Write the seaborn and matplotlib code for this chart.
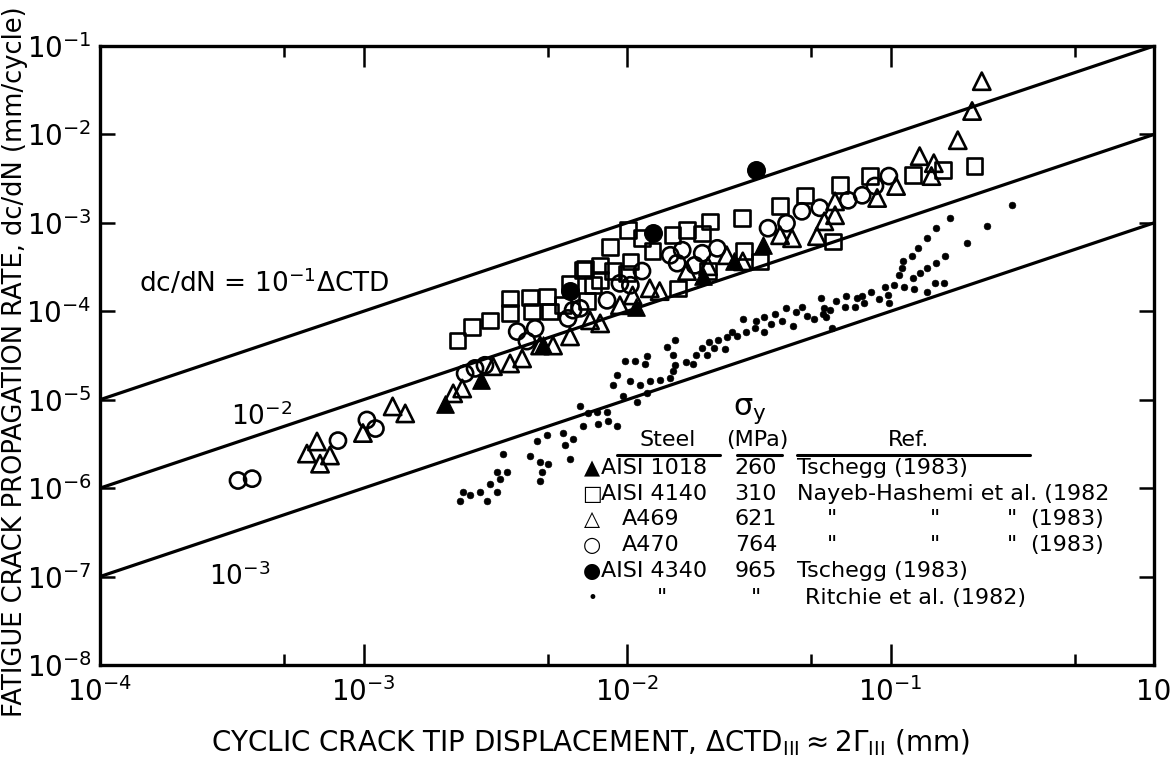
import matplotlib
matplotlib.use("Agg")
import matplotlib.pyplot as plt
import seaborn as sns
from matplotlib.lines import Line2D
from matplotlib.ticker import FixedLocator, FixedFormatter, NullFormatter, NullLocator

# ---------------------------------------------------------------------------
# Fatigue crack growth rate vs. cyclic crack tip displacement (mode III)
# ---------------------------------------------------------------------------

# AISI 4140, Nayeb-Hashemi et al. (open squares)
sq_x = [2.27e-3, 2.58e-3, 3.02e-3, 3.60e-3, 3.60e-3, 4.29e-3, 4.97e-3, 4.36e-3, 5.10e-3, 5.71e-3,
        6.08e-3, 6.81e-3, 7.05e-3, 7.43e-3, 7.91e-3, 7.91e-3, 8.86e-3, 1.00e-2, 1.03e-2, 8.60e-3,
        1.01e-2, 1.14e-2, 1.25e-2, 1.49e-2, 1.69e-2, 1.93e-2, 2.07e-2, 2.73e-2, 2.78e-2, 3.20e-2,
        3.81e-2, 4.73e-2, 6.05e-2, 6.43e-2, 8.36e-2, 0.122, 0.158, 0.208, 6.93e-3, 1.56e-2,
        2.03e-2]
sq_y = [4.7e-5, 6.6e-5, 7.9e-5, 1.40e-4, 9.5e-5, 1.44e-4, 1.47e-4, 1.0e-4, 1.0e-4, 1.17e-4,
        2.07e-4, 2.92e-4, 1.30e-4, 1.97e-4, 3.31e-4, 2.25e-4, 2.85e-4, 2.69e-4, 3.67e-4, 5.3e-4,
        8.25e-4, 6.7e-4, 4.8e-4, 7.24e-4, 8.25e-4, 7.6e-4, 1.04e-3, 1.13e-3, 4.8e-4, 3.67e-4,
        1.55e-3, 2.05e-3, 6.19e-4, 2.69e-3, 3.38e-3, 3.46e-3, 3.94e-3, 4.38e-3, 3.06e-4, 1.82e-4,
        2.85e-4]

# A470, Nayeb-Hashemi et al. (open circles)
ci_x = [3.34e-4, 3.78e-4, 8.0e-4, 1.03e-3, 1.11e-3, 2.43e-3, 2.65e-3, 2.89e-3, 3.83e-3, 4.17e-3,
        4.48e-3, 5.97e-3, 6.24e-3, 6.64e-3, 8.40e-3, 9.40e-3, 1.03e-2, 1.14e-2, 1.46e-2, 1.62e-2,
        1.55e-2, 1.81e-2, 1.93e-2, 2.20e-2, 3.43e-2, 4.03e-2, 4.61e-2, 5.39e-2, 6.91e-2, 7.81e-2,
        8.73e-2, 9.86e-2]
ci_y = [1.22e-6, 1.28e-6, 3.45e-6, 5.9e-6, 4.72e-6, 1.98e-5, 2.26e-5, 2.45e-5, 5.9e-5, 4.6e-5,
        6.4e-5, 8.3e-5, 1.03e-4, 1.08e-4, 1.33e-4, 2.07e-4, 1.97e-4, 2.85e-4, 4.30e-4, 4.91e-4,
        3.5e-4, 3.31e-4, 4.53e-4, 5.15e-4, 8.7e-4, 9.9e-4, 1.35e-3, 1.48e-3, 1.80e-3, 2.05e-3,
        2.61e-3, 3.38e-3]

# A469, Nayeb-Hashemi et al. (open triangles)
tr_x = [6.10e-4, 6.66e-4, 6.84e-4, 7.46e-4, 9.95e-4, 1.29e-3, 1.44e-3, 2.19e-3, 2.37e-3, 3.10e-3,
        3.60e-3, 4.00e-3, 4.68e-3, 5.24e-3, 6.08e-3, 7.24e-3, 7.91e-3, 9.40e-3, 1.05e-2, 1.22e-2,
        1.33e-2, 1.69e-2, 2.03e-2, 2.39e-2, 2.75e-2, 3.81e-2, 4.23e-2, 5.26e-2, 5.61e-2, 6.16e-2,
        6.16e-2, 8.90e-2, 0.105, 0.143, 0.146, 0.129, 0.180, 0.204, 0.222]
tr_y = [2.46e-6, 3.37e-6, 1.89e-6, 2.34e-6, 4.2e-6, 8.4e-6, 7.0e-6, 1.18e-5, 1.34e-5, 2.39e-5,
        2.57e-5, 2.93e-5, 4.1e-5, 4.1e-5, 5.2e-5, 7.9e-5, 7.3e-5, 1.17e-4, 1.51e-4, 1.82e-4,
        1.69e-4, 2.85e-4, 3.23e-4, 4.30e-4, 3.67e-4, 7.24e-4, 6.7e-4, 7.07e-4, 1.04e-3, 1.22e-3,
        1.75e-3, 1.91e-3, 2.61e-3, 3.38e-3, 4.73e-3, 5.68e-3, 8.6e-3, 1.84e-2, 4.0e-2]

# AISI 1018, Tschegg (filled triangles)
ft_x = [2.04e-3, 2.79e-3, 4.80e-3, 1.08e-2, 1.94e-2, 2.55e-2, 3.28e-2]
ft_y = [9.06e-6, 1.65e-5, 4.2e-5, 1.11e-4, 2.50e-4, 3.67e-4, 5.57e-4]

# AISI 4340, Tschegg (filled circles)
fc_x = [6.08e-3, 1.26e-2, 3.10e-2]
fc_y = [1.69e-4, 7.6e-4, 3.94e-3]

# AISI 4340, Ritchie et al. (small dots)
dt_x = [2.32e-3, 2.54e-3, 2.39e-3, 2.77e-3, 2.94e-3, 3.02e-3, 3.21e-3, 3.21e-3, 3.30e-3, 3.51e-3,
        3.38e-3, 4.29e-3, 4.55e-3, 4.68e-3, 5.01e-3, 4.76e-3, 4.68e-3, 4.97e-3, 5.71e-3, 6.24e-3,
        6.08e-3, 5.80e-3, 6.64e-3, 7.11e-3, 7.69e-3, 8.40e-3, 6.81e-3, 7.76e-3, 8.47e-3, 9.16e-3,
        9.16e-3, 8.86e-3, 9.82e-3, 1.07e-2, 1.19e-2, 1.03e-2, 1.12e-2, 1.22e-2, 1.33e-2, 1.46e-2,
        9.66e-3, 1.09e-2, 1.19e-2, 1.52e-2, 1.42e-2, 1.49e-2, 1.52e-2, 1.68e-2, 1.78e-2, 1.83e-2,
        1.93e-2, 2.01e-2, 2.04e-2, 2.14e-2, 2.22e-2, 2.36e-2, 2.39e-2, 2.50e-2, 2.62e-2, 2.75e-2,
        2.84e-2, 3.06e-2, 3.10e-2, 3.30e-2, 3.30e-2, 3.52e-2, 3.65e-2, 3.88e-2, 4.00e-2, 4.26e-2,
        4.37e-2, 4.61e-2, 4.81e-2, 5.12e-2, 5.44e-2, 5.61e-2, 5.70e-2, 6.00e-2, 6.21e-2, 6.72e-2,
        6.78e-2, 7.33e-2, 7.46e-2, 7.94e-2, 8.43e-2, 9.07e-2, 9.86e-2, 9.50e-2, 0.103, 0.113,
        0.123, 0.137, 0.148, 0.160, 1.49e-2, 1.17e-2, 0.290, 0.233, 0.195, 0.168,
        0.149, 0.138, 0.127, 0.121, 0.112, 0.161, 0.149, 0.138, 0.129, 0.122,
        0.108, 0.111, 9.77e-2, 7.81e-2, 5.89e-2, 5.52e-2]
dt_y = [7.2e-7, 8.3e-7, 9.1e-7, 9.1e-7, 7.2e-7, 1.12e-6, 9.1e-7, 1.54e-6, 1.28e-6, 1.54e-6,
        2.46e-6, 2.28e-6, 3.37e-6, 2.0e-6, 1.89e-6, 1.54e-6, 1.22e-6, 4.0e-6, 4.2e-6, 3.64e-6,
        2.16e-6, 3.1e-6, 8.4e-6, 7.0e-6, 7.35e-6, 7.35e-6, 5.1e-6, 5.37e-6, 5.8e-6, 5.1e-6,
        1.88e-5, 1.45e-5, 2.73e-5, 2.73e-5, 3.1e-5, 1.62e-5, 1.45e-5, 1.62e-5, 1.65e-5, 1.74e-5,
        1.1e-5, 9.5e-6, 1.18e-5, 4.7e-5, 3.9e-5, 3.17e-5, 2.45e-5, 2.65e-5, 2.51e-5, 3.17e-5,
        3.8e-5, 3.17e-5, 4.5e-5, 3.8e-5, 4.7e-5, 3.7e-5, 5.1e-5, 5.8e-5, 5.3e-5, 8.1e-5,
        5.8e-5, 6.4e-5, 7.7e-5, 8.6e-5, 5.8e-5, 7.1e-5, 9.2e-5, 7.7e-5, 1.08e-4, 6.8e-5,
        9.8e-5, 1.11e-4, 8.8e-5, 8.1e-5, 1.40e-4, 1.08e-4, 8.6e-5, 6.4e-5, 1.30e-4, 1.11e-4,
        1.47e-4, 1.11e-4, 1.40e-4, 1.23e-4, 1.65e-4, 1.36e-4, 1.23e-4, 1.88e-4, 1.97e-4, 1.88e-4,
        1.78e-4, 1.65e-4, 2.07e-4, 2.07e-4, 2.1e-5, 2.51e-5, 1.58e-3, 9.2e-4, 5.87e-4, 1.13e-3,
        8.7e-4, 6.7e-4, 5.15e-4, 4.2e-4, 3.67e-4, 4.2e-4, 3.5e-4, 3.06e-4, 2.69e-4, 2.36e-4,
        2.56e-4, 3.06e-4, 1.51e-4, 1.47e-4, 1.03e-4, 9.2e-5]

# Reference lines dc/dN = C * dCTD
line_coefs = [1e-1, 1e-2, 1e-3]
line_x = [1e-4, 1.0]

# Axis ticks
x_major = [1e-4, 1e-3, 1e-2, 1e-1, 1.0]
x_major_labels = [r"$10^{-4}$", r"$10^{-3}$", r"$10^{-2}$", r"$10^{-1}$", "10"]
x_minor = [5e-4, 5e-3, 5e-2, 5e-1]
y_major = [1e-8, 1e-7, 1e-6, 1e-5, 1e-4, 1e-3, 1e-2, 1e-1]
y_major_labels = [r"$10^{-%d}$" % k for k in range(8, 0, -1)]

# Key table
key_symbols = ["\u25B2", "\u25A1", "\u25B3", "\u25CB", "\u25CF", "\u2022"]
key_steels = ["AISI 1018", "AISI 4140", "A469", "A470", "AISI 4340", '"']
key_sigma = ["260", "310", "621", "764", "965", '"']
key_refs = ["Tschegg (1983)", "Nayeb-Hashemi et al. (1982", None, None,
            "Tschegg (1983)", "Ritchie et al. (1982)"]

# ---------------------------------------------------------------------------
W, H = 1176, 769
sns.set_theme(style="white")
plt.rcParams["font.family"] = ["DejaVu Sans"]
plt.rcParams["mathtext.default"] = "regular"
plt.rcParams["text.color"] = "black"
plt.rcParams["axes.labelcolor"] = "black"
plt.rcParams["xtick.color"] = "black"
plt.rcParams["ytick.color"] = "black"

fig = plt.figure(figsize=(W / 100, H / 100), dpi=100)
ax = fig.add_axes([100 / W, 1 - 665 / H, 1054 / W, 619 / H])
ax.set_xscale("log")
ax.set_yscale("log")

for c in line_coefs:
    sns.lineplot(x=line_x, y=[c * v for v in line_x], color="black", lw=2.3, ax=ax)

open_kw = dict(facecolor="none", edgecolor="black", linewidth=1.9, ax=ax, zorder=3)
sns.scatterplot(x=sq_x, y=sq_y, marker="s", s=125, **open_kw)
sns.scatterplot(x=ci_x, y=ci_y, marker="o", s=135, **open_kw)
sns.scatterplot(x=tr_x, y=tr_y, marker="^", s=155, **open_kw)
sns.scatterplot(x=ft_x, y=ft_y, marker="^", s=155, color="black", edgecolor="black", ax=ax, zorder=4)
sns.scatterplot(x=fc_x, y=fc_y, marker="o", s=160, color="black", edgecolor="black", ax=ax, zorder=4)
sns.scatterplot(x=dt_x, y=dt_y, marker="o", s=24, color="black", edgecolor="black", ax=ax, zorder=4)

ax.set_xlim(1e-4, 1.0)
ax.set_ylim(1e-8, 1e-1)

ax.xaxis.set_major_locator(FixedLocator(x_major))
ax.xaxis.set_major_formatter(FixedFormatter(x_major_labels))
ax.xaxis.set_minor_locator(FixedLocator(x_minor))
ax.xaxis.set_minor_formatter(NullFormatter())
ax.yaxis.set_major_locator(FixedLocator(y_major))
ax.yaxis.set_major_formatter(FixedFormatter(y_major_labels))
ax.yaxis.set_minor_locator(NullLocator())

ax.tick_params(axis="x", which="major", direction="in", length=15, width=1.8,
               top=True, bottom=True, labelsize=20, pad=9, colors="black")
ax.tick_params(axis="x", which="minor", direction="in", length=8, width=1.8,
               top=True, bottom=True)
ax.tick_params(axis="y", which="major", direction="in", length=11, width=1.8,
               left=True, right=True, labelsize=20, pad=6, colors="black")
for sp in ax.spines.values():
    sp.set_linewidth(2.4)
    sp.set_color("black")
ax.set_xlabel("")
ax.set_ylabel("")


def fpos(px, py):
    return px / W, 1 - py / H


# Axis titles
fig.text(*fpos(15, 362), "FATIGUE CRACK PROPAGATION RATE, dc/dN (mm/cycle)",
         rotation=90, ha="center", va="center", fontsize=18.5)
fig.text(*fpos(590, 743),
         r"CYCLIC CRACK TIP DISPLACEMENT, $\Delta$CTD$_{III}$$\approx$2$\Gamma_{III}$ (mm)",
         ha="center", va="center", fontsize=20)

# Line labels
ax.text(1.4e-4, 2.1e-4, r"dc/dN = 10$^{-1}$$\Delta$CTD", fontsize=19, ha="left", va="center")
ax.text(4.1e-4, 6.5e-6, r"10$^{-2}$", fontsize=19, ha="center", va="center")
ax.text(3.4e-4, 1.0e-7, r"10$^{-3}$", fontsize=19, ha="center", va="center")

# Key table
fs = 16
fig.text(*fpos(750, 411), r"$\sigma_y$", fontsize=22, ha="center", va="center")
fig.text(*fpos(668, 440), "Steel", fontsize=fs, ha="center", va="center")
fig.text(*fpos(757, 440), "(MPa)", fontsize=fs, ha="center", va="center")
fig.text(*fpos(908, 440), "Ref.", fontsize=fs, ha="center", va="center")
for x0, x1 in [(617, 720), (737, 782), (797, 1030)]:
    fig.add_artist(Line2D([x0 / W, x1 / W], [1 - 455 / H] * 2, color="black", lw=2.2))

row_y = [468, 494, 519, 545, 571, 598]
for i, yy in enumerate(row_y):
    sym_fs = 12 if i == 5 else 15
    fig.text(*fpos(592, yy), key_symbols[i], fontsize=sym_fs, ha="center", va="center")
    if key_steels[i] == '"':
        fig.text(*fpos(662, yy), key_steels[i], fontsize=fs, ha="center", va="center")
    elif key_steels[i].startswith("AISI"):
        fig.text(*fpos(601, yy), key_steels[i], fontsize=fs, ha="left", va="center")
    else:
        fig.text(*fpos(622, yy), key_steels[i], fontsize=fs, ha="left", va="center")
    fig.text(*fpos(756, yy), key_sigma[i], fontsize=fs, ha="center", va="center")
    ref = key_refs[i]
    if ref is None:
        for dx in (832, 935, 1012):
            fig.text(*fpos(dx, yy), '"', fontsize=fs, ha="center", va="center")
        fig.text(*fpos(1030, yy), "(1983)", fontsize=fs, ha="left", va="center")
    else:
        x_start = 805 if i == 5 else 797
        fig.text(*fpos(x_start, yy), ref, fontsize=fs, ha="left", va="center")

fig.savefig("out.png", dpi=100, facecolor="white")
